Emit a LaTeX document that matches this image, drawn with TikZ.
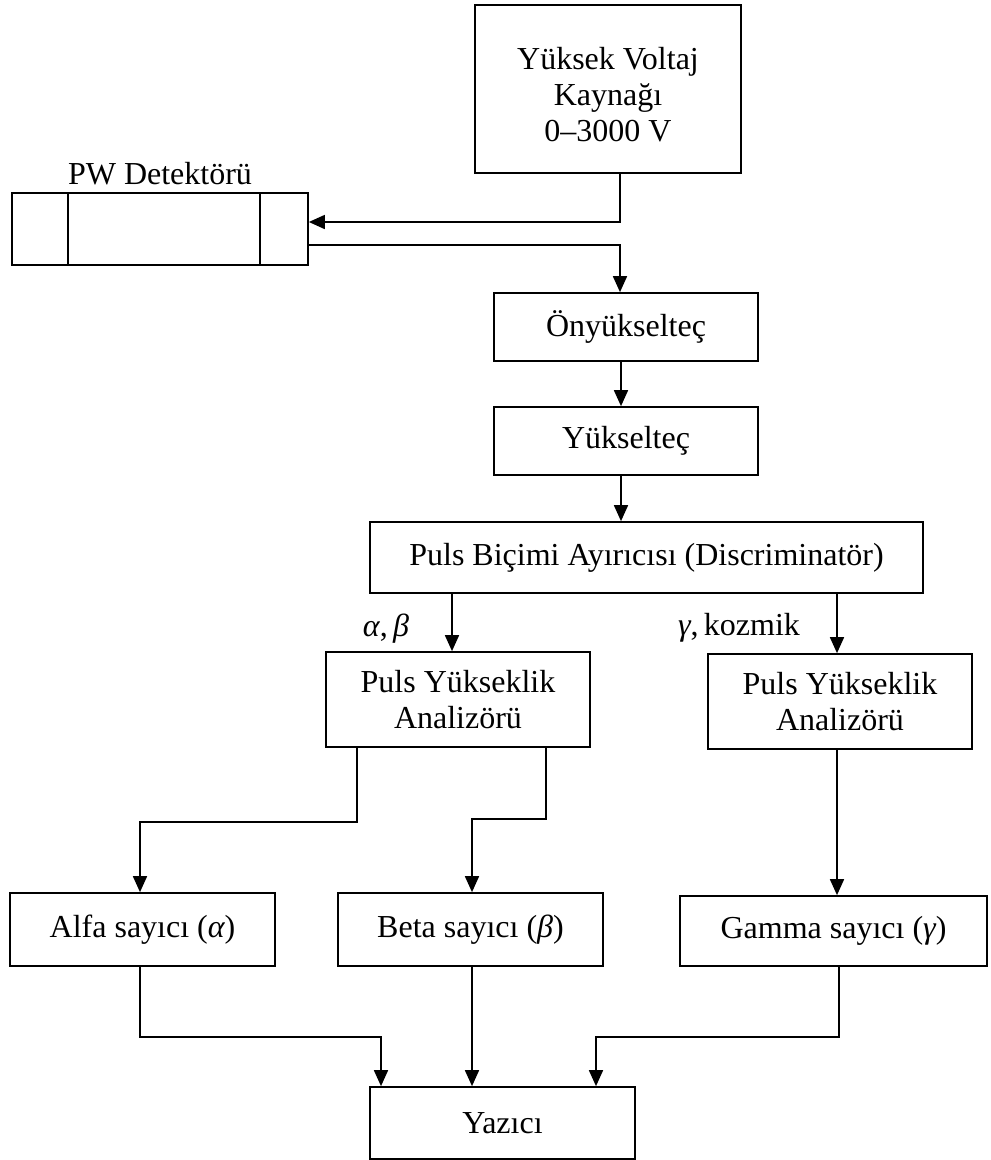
\documentclass[tikz,border=0pt]{standalone}
\usepackage{fontspec}
\setmainfont{Liberation Serif}
\usetikzlibrary{arrows.meta}
\begin{document}
\begin{tikzpicture}[x=1pt,y=-1pt,
  txt/.style={font=\fontsize{32}{36}\selectfont,inner sep=0pt,align=center},
  box/.style={txt,draw,line width=1.7pt},
  ln/.style={line width=1.7pt},
  arr/.style={line width=1.7pt,-{Triangle[length=16pt,width=14pt]}}]
\useasboundingbox (0,0) rectangle (991,1160);
% nodes
\node[box,minimum width=266pt,minimum height=168pt] (hv) at (608,89) {};
\node[txt] (hvt) at (608,95) {Yüksek Voltaj\\Kaynağı\\0–3000 V};
\node[box,minimum width=296pt,minimum height=72pt] (det) at (160,229) {};
\draw[ln] (det.north -| 68,0) -- (det.south -| 68,0);
\draw[ln] (det.north -| 260,0) -- (det.south -| 260,0);
\node[txt,anchor=base] (detl) at (160,184) {PW Detektörü};
\node[box,minimum width=264pt,minimum height=68pt] (ony) at (626,327) {Önyükselteç};
\node[box,minimum width=264pt,minimum height=68pt] (yuk) at (626,441) {Yükselteç};
\node[box,minimum width=553pt,minimum height=71pt] (disc) at (646.5,557.5) {Puls Biçimi Ayırıcısı (Discriminatör)};
\node[box,minimum width=264pt,minimum height=95pt] (pha1) at (458,699.5) {Puls Yükseklik\\Analizörü};
\node[box,minimum width=264pt,minimum height=95pt] (pha2) at (840,701.5) {Puls Yükseklik\\Analizörü};
\node[box,minimum width=265pt,minimum height=73pt] (alfa) at (142.5,929.5) {Alfa sayıcı ({\itshape α})};
\node[box,minimum width=265pt,minimum height=73pt] (beta) at (470.5,929.5) {Beta sayıcı ({\itshape β})};
\node[box,minimum width=307pt,minimum height=70pt] (gamma) at (833.5,931) {Gamma sayıcı ({\itshape γ})};
\node[box,minimum width=265pt,minimum height=72pt] (yaz) at (502.5,1123) {Yazıcı};
\node[txt] (lab1) at (386,629) {{\itshape α},\,{\itshape β}};
\node[txt] (lab2) at (739,628) {{\itshape γ},\,kozmik};
% connectors
\draw[arr] (hv.south -| 620,0) -- (620,222) -- (det.east |- 0,222);
\draw[arr] (det.east |- 0,245) -- (620,245) -- (ony.north -| 620,0);
\draw[arr] (ony.south -| 621,0) -- (yuk.north -| 621,0);
\draw[arr] (yuk.south -| 621,0) -- (disc.north -| 621,0);
\draw[arr] (disc.south -| 452,0) -- (pha1.north -| 452,0);
\draw[arr] (disc.south -| 837,0) -- (pha2.north -| 837,0);
\draw[arr] (pha1.south -| 357,0) -- (357,822) -- (140,822) -- (alfa.north -| 140,0);
\draw[arr] (pha1.south -| 546,0) -- (546,819) -- (472,819) -- (beta.north -| 472,0);
\draw[arr] (pha2.south -| 837,0) -- (gamma.north -| 837,0);
\draw[arr] (alfa.south -| 140,0) -- (140,1037) -- (381,1037) -- (yaz.north -| 381,0);
\draw[arr] (beta.south -| 472,0) -- (yaz.north -| 472,0);
\draw[arr] (gamma.south -| 839,0) -- (839,1037) -- (596,1037) -- (yaz.north -| 596,0);
\end{tikzpicture}
\end{document}
